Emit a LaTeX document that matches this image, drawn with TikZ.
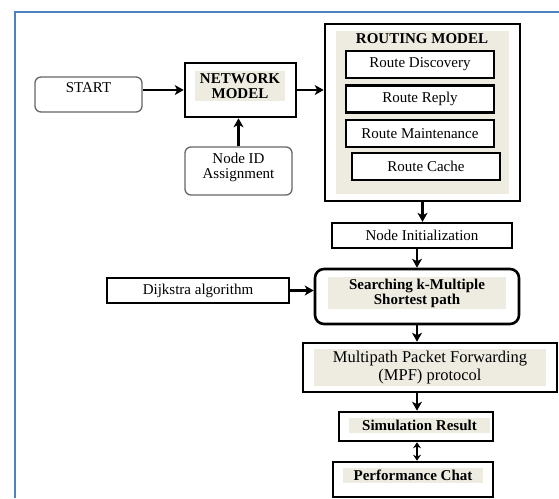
\documentclass[tikz,border=0pt]{standalone}
\usepackage{fontspec}
\setmainfont{Liberation Serif}
\usepackage{xcolor}
\usepackage{tikz}
\usetikzlibrary{arrows.meta}
\usetikzlibrary{calc}
\definecolor{paper}{HTML}{EEECE1}
\definecolor{frameblue}{HTML}{4F81BD}
\tikzstyle{shaded}=[fill=paper, inner sep=0pt]
\tikzstyle{lbl}=[inner sep=0pt, align=center, font=\fontsize{15}{15}\selectfont]
\tikzstyle{thickbox}=[draw, line width=2.6pt, fill=white, inner sep=0pt]
\tikzstyle{softbox}=[draw=black!60, line width=1.3pt, rounded corners=6pt, inner sep=0pt]
\tikzstyle{flow}=[line width=2.2pt, -{Stealth[length=9pt, width=10pt, inset=2.5pt]}]
\tikzstyle{bothflow}=[line width=2pt, {Stealth[length=6pt, width=8pt]}-{Stealth[length=6pt, width=8pt]}]
\newcommand{\panel}[6]{
 \node[shaded, align=center, minimum width=#3, minimum height=#4, font=#5] (#1) at #2 {#6};
}
\newcommand{\boldfont}{\fontsize{15}{15}\selectfont\bfseries}

\begin{document}
\begin{tikzpicture}[x=1pt, y=-1pt]
 \useasboundingbox (0,0) rectangle (559,498);
 \draw[line width=2pt, frameblue] (15,498) -- (15,12) -- (559,12);
%
 \node[softbox, minimum width=107, minimum height=35] (start) at (88.5,94.5) {};
 \node[lbl] (start-t) at (88.5,88) {START};
 \node[thickbox, minimum width=111, minimum height=54] (net) at (240.5,90) {};
 \panel{net-in}{(240,86)}{90}{30}{\boldfont}{NETWORK\\MODEL}
 \node[softbox, minimum width=107, minimum height=48] (nodeid) at (238.5,171) {};
 \node[lbl] (nodeid-t) at (238.5,167) {Node ID\\Assignment};
%
 \node[thickbox, minimum width=195, minimum height=177] (routing) at (422.5,112.5) {};
 \node[shaded, minimum width=173, minimum height=163] (routing-in) at (422.5,112.5) {};
 \node[lbl, font=\boldfont] (routing-t) at (422,39) {ROUTING MODEL};
 \node[thickbox, lbl, minimum width=148, minimum height=27] (disc) at (420,64.5) {Route Discovery};
 \node[thickbox, lbl, minimum width=148, minimum height=27] (reply) at (420,99) {Route Reply};
 \node[thickbox, lbl, minimum width=148, minimum height=27] (maint) at (420,133.5) {Route Maintenance};
 \node[thickbox, lbl, minimum width=148, minimum height=27] (cache) at (426,166.5) {Route Cache};
%
 \node[thickbox, lbl, line width=2.3pt, minimum width=180, minimum height=25] (init) at (422,235.5) {Node Initialization};
 \node[thickbox, rounded corners=9pt, minimum width=204, minimum height=55] (search) at (417,296.5) {};
 \panel{search-in}{(417,293)}{178}{32}{\boldfont}{Searching k-Multiple\\Shortest path}
 \node[thickbox, lbl, minimum width=182, minimum height=25] (dijkstra) at (198,290.5) {Dijkstra algorithm};
 \node[thickbox, minimum width=254, minimum height=49] (mpf) at (430,367.5) {};
 \panel{mpf-in}{(430,367.5)}{232}{37}{\fontsize{16.5}{18}\selectfont}{Multipath Packet Forwarding\\(MPF) protocol}
 \node[thickbox, minimum width=154, minimum height=29] (sim) at (416,426.5) {};
 \panel{sim-in}{(419.5,425.5)}{141}{15}{\boldfont}{Simulation Result}
 \node[thickbox, minimum width=160, minimum height=35] (perf) at (413,479.5) {};
 \panel{perf-in}{(413,475.5)}{140}{15}{\boldfont}{Performance Chat}
%
 \draw[flow] (start.east |- net) -- (net.west);
 \draw[flow] (nodeid.north) -- (nodeid.north |- net.south);
 \draw[flow] (net.east) -- (net.east -| routing.west);
 \draw[flow] (routing.south) -- (routing.south |- init.north);
 \draw[flow] (search.north |- init.south) -- (search.north);
 \draw[flow] (dijkstra.east) -- (dijkstra.east -| search.west);
 \draw[flow] (search.south) -- (search.south |- mpf.north);
 \draw[flow] (mpf.south -| search) -- (sim.north -| search);
 \draw[bothflow] (sim.south -| search) -- (perf.north -| search);
\end{tikzpicture}
\end{document}
